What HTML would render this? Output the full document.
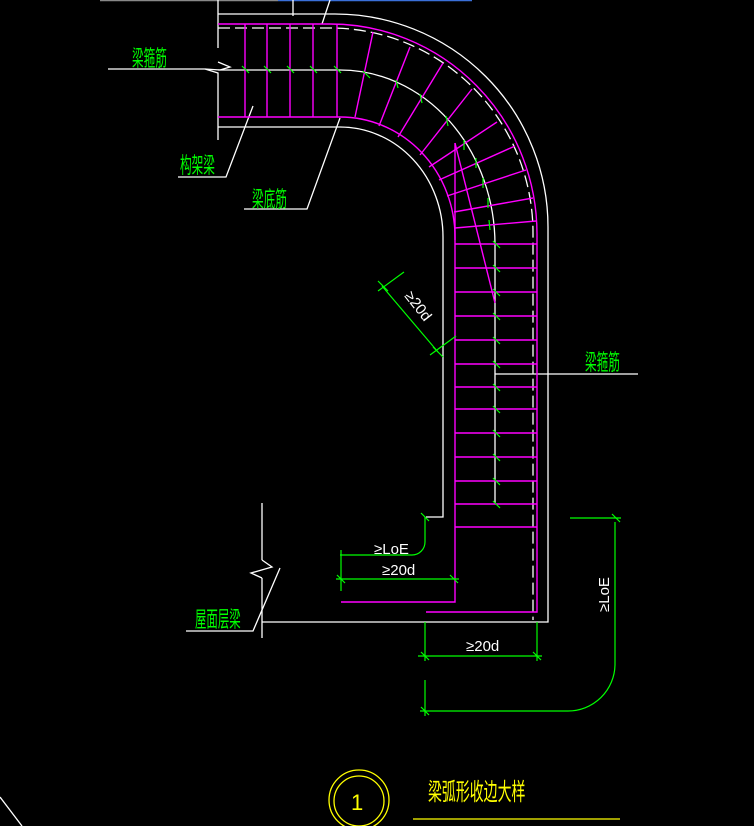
<!DOCTYPE html>
<html><head><meta charset="utf-8"><style>
html,body{margin:0;padding:0;background:#000;}
svg{display:block;}
text{font-family:"Liberation Sans","Noto Sans CJK SC",sans-serif;}
</style></head><body>
<svg width="754" height="826" viewBox="0 0 754 826" xmlns="http://www.w3.org/2000/svg">
<rect width="754" height="826" fill="#000"/>
<line x1="100" y1="0.5" x2="278" y2="0.5" stroke="#888" stroke-width="1.5"/>
<line x1="278" y1="0.5" x2="472" y2="0.5" stroke="#3a6fd8" stroke-width="1.5"/>
<g fill="none" stroke="#fff" stroke-width="1.3">
<line x1="218" y1="0" x2="218" y2="48"/>
<polyline points="218,62 230,67 220,70 205,69 218,73 218,77"/>
<line x1="218" y1="77" x2="218" y2="140"/>
<line x1="218" y1="14" x2="320" y2="14"/>
<line x1="293" y1="0" x2="293" y2="16"/>
<line x1="330" y1="0" x2="322" y2="24"/>
<path d="M320 14 H335 A213 213 0 0 1 548 227 V622 H262"/>
<path d="M218 127 H340 A103 110 0 0 1 443 237 V517 H426"/>
<line x1="262" y1="503" x2="262" y2="560"/>
<polyline points="262,560 272,567 251,573 262,578"/>
<line x1="262" y1="578" x2="262" y2="638"/>
<path d="M108 69 H205"/>
<path d="M218 70 H340 A155 175 0 0 1 495 245 V503"/>
<path d="M218 28 H330 A203 205 0 0 1 533 233 V620" stroke-dasharray="12,5"/>
<polyline points="178,177 226,177 253,106"/>
<polyline points="244,209 307,209 340,118"/>
<line x1="495" y1="374" x2="638" y2="374"/>
<polyline points="186,631 253,631 280,568"/>
<line x1="0" y1="797" x2="22" y2="826"/>
</g>
<g fill="none" stroke="#ff00ff" stroke-width="1.4">
<path d="M218 24 H330 A207 210 0 0 1 537 234 V612 H426"/>
<path d="M218 117 H340 A115 120 0 0 1 455 237 V602 H341"/>
<line x1="245" y1="24" x2="245" y2="117"/>
<line x1="267" y1="24" x2="267" y2="117"/>
<line x1="290" y1="24" x2="290" y2="117"/>
<line x1="313" y1="24" x2="313" y2="117"/>
<line x1="337" y1="24" x2="337" y2="117"/>
<line x1="355" y1="117" x2="373" y2="32"/>
<line x1="379" y1="126" x2="410" y2="47"/>
<line x1="398" y1="137" x2="443" y2="63"/>
<line x1="420" y1="155" x2="472" y2="89"/>
<line x1="429" y1="167" x2="497" y2="122"/>
<line x1="439" y1="180" x2="515" y2="146"/>
<line x1="447" y1="196" x2="526" y2="170"/>
<line x1="454" y1="212" x2="533" y2="198"/>
<line x1="455" y1="228" x2="536" y2="221"/>
<line x1="455" y1="143" x2="455" y2="240"/>
<line x1="455" y1="143" x2="495" y2="303"/>
<g>
<line x1="455" y1="244" x2="537" y2="244"/><line x1="455" y1="268" x2="537" y2="268"/>
<line x1="455" y1="292" x2="537" y2="292"/><line x1="455" y1="316" x2="537" y2="316"/>
<line x1="455" y1="340" x2="537" y2="340"/><line x1="455" y1="364" x2="537" y2="364"/>
<line x1="455" y1="387" x2="537" y2="387"/><line x1="455" y1="409" x2="537" y2="409"/>
<line x1="455" y1="433" x2="537" y2="433"/><line x1="455" y1="457" x2="537" y2="457"/>
<line x1="455" y1="481" x2="537" y2="481"/><line x1="455" y1="504" x2="537" y2="504"/>
<line x1="455" y1="527" x2="537" y2="527"/>
</g>
</g>
<g stroke="#00ff00" stroke-width="1.2" fill="none">
<line x1="242" y1="66" x2="249" y2="73"/><line x1="264" y1="66" x2="271" y2="73"/>
<line x1="287" y1="66" x2="294" y2="73"/><line x1="310" y1="66" x2="317" y2="73"/>
<line x1="334" y1="66" x2="341" y2="73"/><line x1="363" y1="71" x2="370" y2="78"/>
<line x1="396" y1="80" x2="398" y2="88"/><line x1="420" y1="94" x2="422" y2="103"/>
<line x1="446" y1="116" x2="448" y2="126"/><line x1="464" y1="140" x2="464" y2="150"/>
<line x1="476" y1="158" x2="476" y2="168"/><line x1="483" y1="178" x2="483" y2="188"/>
<line x1="488" y1="198" x2="488" y2="208"/><line x1="489" y1="220" x2="490" y2="230"/>
<line x1="493" y1="241" x2="500" y2="248"/>
<line x1="493" y1="265" x2="500" y2="272"/><line x1="493" y1="289" x2="500" y2="296"/>
<line x1="493" y1="313" x2="500" y2="320"/><line x1="493" y1="337" x2="500" y2="344"/>
<line x1="493" y1="361" x2="500" y2="368"/><line x1="493" y1="384" x2="500" y2="391"/>
<line x1="493" y1="406" x2="500" y2="413"/><line x1="493" y1="430" x2="500" y2="437"/>
<line x1="493" y1="454" x2="500" y2="461"/><line x1="493" y1="478" x2="500" y2="485"/>
<line x1="493" y1="501" x2="500" y2="508"/>
<line x1="382" y1="286" x2="438" y2="352"/>
<line x1="378" y1="291" x2="404" y2="272"/><line x1="430" y1="355" x2="456" y2="336"/>
<line x1="378" y1="281" x2="388" y2="291"/><line x1="433" y1="347" x2="443" y2="357"/>
<path d="M425 517 V542 A13 13 0 0 1 412 555 H340"/>
<line x1="421" y1="513" x2="429" y2="521"/>
<line x1="341" y1="550" x2="341" y2="591"/>
<line x1="336" y1="579" x2="459" y2="579"/>
<line x1="337" y1="575" x2="345" y2="583"/><line x1="450" y1="575" x2="458" y2="583"/>
<line x1="425" y1="622" x2="425" y2="661"/>
<line x1="537" y1="622" x2="537" y2="661"/>
<line x1="418" y1="656" x2="542" y2="656"/>
<line x1="421" y1="652" x2="429" y2="660"/><line x1="533" y1="652" x2="541" y2="660"/>
<line x1="570" y1="518" x2="621" y2="518"/>
<line x1="612" y1="514" x2="620" y2="522"/>
<path d="M615 522 V665 A47 47 0 0 1 568 711 H420"/>
<line x1="425" y1="680" x2="425" y2="716"/>
<line x1="421" y1="707" x2="429" y2="715"/>
</g>
<g fill="#fff" font-size="15">
<text x="374" y="554">≥LoE</text>
<text x="382" y="575">≥20d</text>
<text x="466" y="651">≥20d</text>
<text transform="translate(404,296) rotate(52)">≥20d</text>
<text transform="translate(609,612) rotate(-90)">≥LoE</text>
</g>
<g fill="#00ff00" font-size="22">
<text transform="translate(132,66) scale(0.53,1)">梁箍筋</text>
<text transform="translate(180,173) scale(0.53,1)">构架梁</text>
<text transform="translate(252,207) scale(0.53,1)">梁底筋</text>
<text transform="translate(585,370) scale(0.53,1)">梁箍筋</text>
<text transform="translate(195,627) scale(0.52,1)">屋面层梁</text>
</g>
<g fill="none" stroke="#ffff00" stroke-width="1.3">
<circle cx="359" cy="800" r="30"/>
<circle cx="359" cy="801" r="25"/>
<line x1="413" y1="819" x2="620" y2="819"/>
</g>
<text x="351" y="810" fill="#ffff00" font-size="22">1</text>
<text transform="translate(428,800) scale(0.58,1)" fill="#ffff00" font-size="24">梁弧形收边大样</text>
</svg>
</body></html>
